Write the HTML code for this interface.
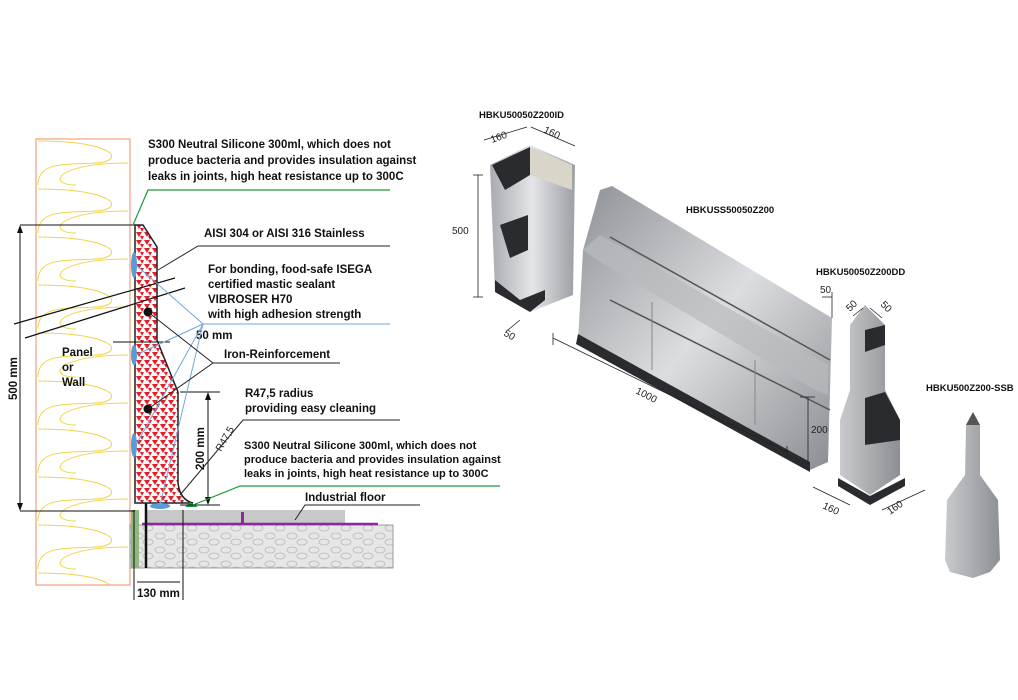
<!DOCTYPE html>
<html><head><meta charset="utf-8"><style>
html,body{margin:0;padding:0;background:#fff;}
svg{display:block;font-family:"Liberation Sans",sans-serif;}
.b{font-weight:bold;font-size:11.5px;fill:#111;}
.s{font-weight:bold;font-size:9.5px;fill:#111;}
.m{font-weight:bold;font-size:11px;fill:#111;}
.d{font-size:10px;fill:#222;}
</style></head><body>
<svg width="1018" height="700" viewBox="0 0 1018 700" xmlns="http://www.w3.org/2000/svg">
<defs>
<pattern id="tri" width="8" height="8" patternUnits="userSpaceOnUse">
<rect width="8" height="8" fill="#fff"/>
<polygon points="0,0 6,0 3,5" fill="#e0202a"/><polygon points="4,4 8,4 6,8" fill="#e0202a"/><polygon points="-4,4 0,4 -2,8" fill="#e0202a"/>
</pattern>
<pattern id="stone" width="22" height="14" patternUnits="userSpaceOnUse">
<rect width="22" height="14" fill="#e6e6e6"/>
<ellipse cx="6" cy="4" rx="5" ry="3" fill="none" stroke="#bbb" stroke-width="0.8"/>
<ellipse cx="16" cy="10" rx="5" ry="3" fill="none" stroke="#bbb" stroke-width="0.8"/>
</pattern>
<pattern id="loops" x="36" y="139" width="94" height="48" patternUnits="userSpaceOnUse">
<path d="M2,2 C80,2 90,22 60,24 C30,26 2,22 2,46 M92,24 C20,24 10,46 40,46" fill="none" stroke="#f2d34a" stroke-width="1"/>
</pattern>
<linearGradient id="m1" x1="0" y1="0" x2="1" y2="1"><stop offset="0" stop-color="#8d9096"/><stop offset="0.5" stop-color="#dcdde0"/><stop offset="1" stop-color="#8a8d92"/></linearGradient>
<linearGradient id="m2" x1="0" y1="0" x2="1" y2="0"><stop offset="0" stop-color="#a9abb0"/><stop offset="0.5" stop-color="#e4e5e8"/><stop offset="1" stop-color="#9c9fa4"/></linearGradient>
<linearGradient id="m3" x1="0" y1="0" x2="1" y2="0"><stop offset="0" stop-color="#c8cacd"/><stop offset="1" stop-color="#8c8f94"/></linearGradient>
</defs>

<rect x="36" y="139" width="94" height="446" fill="url(#loops)" stroke="#f0a080" stroke-width="1.2"/>
<text class="b" x="62" y="356">Panel</text><text class="b" x="62" y="371">or</text><text class="b" x="62" y="386">Wall</text>

<rect x="145" y="510" width="200" height="15" fill="#c8c8c8"/>
<rect x="130" y="525" width="263" height="43" fill="url(#stone)" stroke="#888" stroke-width="0.8"/>
<line x1="142" y1="524" x2="378" y2="524" stroke="#8a2a9a" stroke-width="2.5"/>
<rect x="241" y="512" width="3" height="12" fill="#8a2a9a"/>
<rect x="131" y="510" width="8" height="58" fill="#8fb880"/>
<line x1="146" y1="480" x2="146" y2="568" stroke="#111" stroke-width="2.5"/>

<path d="M135,225 L143,225 L157,247 L157,340 L165,360 L178,392 L178,483 Q180,500 193,503 L135,503 Z" fill="url(#tri)" stroke="#222" stroke-width="1.5"/>
<g fill="#5b9bd5"><ellipse cx="134" cy="265" rx="3" ry="13"/><ellipse cx="134" cy="355" rx="3" ry="10"/><ellipse cx="134" cy="445" rx="3" ry="12"/><ellipse cx="160" cy="506" rx="10" ry="3"/></g>
<polygon points="185,507 198,507 190,502" fill="#1a9a3a"/>
<circle cx="148" cy="312" r="4.5" fill="#111"/><circle cx="148" cy="409" r="4.5" fill="#111"/>
<line x1="14" y1="324" x2="175" y2="278" stroke="#111" stroke-width="1.2"/>
<line x1="25" y1="338" x2="185" y2="288" stroke="#111" stroke-width="1.2"/>

<g stroke="#111" stroke-width="1" fill="none">
<line x1="20" y1="225" x2="135" y2="225"/><line x1="20" y1="511" x2="135" y2="511"/>
<line x1="20" y1="228" x2="20" y2="508"/>
<line x1="180" y1="392" x2="220" y2="392"/><line x1="180" y1="505" x2="220" y2="505"/>
<line x1="208" y1="395" x2="208" y2="502"/>
<line x1="113" y1="342" x2="170" y2="342"/>
<line x1="134" y1="510" x2="134" y2="600"/><line x1="183" y1="510" x2="183" y2="600"/>
<line x1="137" y1="582" x2="180" y2="582"/>
</g>
<g fill="#111"><polygon points="20,225 17,233 23,233"/><polygon points="20,511 17,503 23,503"/>
<polygon points="208,392 205,400 211,400"/><polygon points="208,505 205,497 211,497"/></g>
<text class="b" transform="translate(17,400) rotate(-90)">500 mm</text>
<text class="b" transform="translate(204,470) rotate(-90)">200 mm</text>
<text class="d" font-size="12" transform="translate(221,452) rotate(-60)">R47,5</text>
<text class="b" x="137" y="597">130 mm</text>
<text class="b" x="196" y="339">50 mm</text>

<polyline points="390,190 148,190 133,225" fill="none" stroke="#1a9a3a" stroke-width="1.2"/>
<polyline points="500,486 240,486 193,505" fill="none" stroke="#1a9a3a" stroke-width="1.2"/>
<polyline points="390,246 198,246 158,270" fill="none" stroke="#222" stroke-width="1"/>
<g stroke="#6fa8dc" stroke-width="1" fill="none">
<line x1="390" y1="324" x2="203" y2="324"/>
<line x1="203" y1="324" x2="136" y2="265"/><line x1="203" y1="324" x2="136" y2="355"/>
<line x1="203" y1="324" x2="136" y2="445"/><line x1="203" y1="324" x2="160" y2="505"/>
</g>
<polyline points="340,363 213,363 148,312" fill="none" stroke="#222"/>
<line x1="213" y1="363" x2="148" y2="409" stroke="#222"/>
<polyline points="400,420 243,420 180,495" fill="none" stroke="#222"/>
<polyline points="420,505 305,505 295,520" fill="none" stroke="#222"/>

<text class="b" x="148" y="148">S300 Neutral Silicone 300ml, which does not</text>
<text class="b" x="148" y="164">produce bacteria and provides insulation against</text>
<text class="b" x="148" y="180">leaks in joints, high heat resistance up to 300C</text>
<text class="b" x="204" y="237">AISI 304 or AISI 316 Stainless</text>
<text class="b" x="208" y="273">For bonding, food-safe ISEGA</text>
<text class="b" x="208" y="288">certified mastic sealant</text>
<text class="b" x="208" y="303">VIBROSER H70</text>
<text class="b" x="208" y="318">with high adhesion strength</text>
<text class="b" x="224" y="358">Iron-Reinforcement</text>
<text class="b" x="245" y="397">R47,5 radius</text>
<text class="b" x="245" y="412">providing easy cleaning</text>
<text class="m" x="244" y="449">S300 Neutral Silicone 300ml, which does not</text>
<text class="m" x="244" y="463">produce bacteria and provides insulation against</text>
<text class="m" x="244" y="477">leaks in joints, high heat resistance up to 300C</text>
<text class="b" x="305" y="501">Industrial floor</text>

<text class="s" x="479" y="118">HBKU50050Z200ID</text>
<polygon points="490,165 530,145 575,165 573,295 530,312 495,292" fill="url(#m2)"/>
<polygon points="492,165 530,147 530,175 505,190" fill="#2a2b2e"/>
<polygon points="530,147 572,165 572,190 530,175" fill="#d9d5c8"/>
<polygon points="500,225 528,215 528,250 510,258" fill="#2a2b2e"/>
<polygon points="495,280 520,300 545,290 545,300 530,312 495,292" fill="#2a2b2e"/>
<g stroke="#222" fill="none" stroke-width="0.8">
<line x1="478" y1="175" x2="478" y2="297"/><line x1="473" y1="175" x2="483" y2="175"/><line x1="473" y1="297" x2="483" y2="297"/>
<line x1="484" y1="140" x2="527" y2="127"/><line x1="531" y1="127" x2="575" y2="146"/>
<line x1="508" y1="330" x2="520" y2="320"/>
</g>
<text class="d" x="452" y="234" font-size="11">500</text>
<text class="d" font-size="10" transform="translate(492,143) rotate(-20)">160</text>
<text class="d" font-size="10" transform="translate(543,132) rotate(25)">160</text>
<text class="d" font-size="9" transform="translate(503,335) rotate(30)">50</text>

<text class="s" x="686" y="213">HBKUSS50050Z200</text>
<polygon points="600,190 612,186 832,318 828,462 810,470 578,342 583,250" fill="url(#m1)"/>
<polygon points="583,250 600,235 828,365 828,395 815,390 600,262" fill="#b8babe" opacity="0.7"/>
<polygon points="578,334 810,462 810,472 576,344" fill="#2a2b2e"/>
<line x1="610" y1="237" x2="830" y2="360" stroke="#555" stroke-width="1.5"/>
<line x1="610" y1="300" x2="830" y2="410" stroke="#555" stroke-width="1.5"/>
<line x1="652" y1="302" x2="652" y2="370" stroke="#888"/><line x1="755" y1="360" x2="755" y2="425" stroke="#888"/>
<g stroke="#222" fill="none" stroke-width="0.8">
<line x1="553" y1="338" x2="787" y2="452"/><line x1="553" y1="333" x2="553" y2="345"/><line x1="787" y1="446" x2="787" y2="458"/>
<line x1="808" y1="397" x2="808" y2="465"/><line x1="800" y1="397" x2="815" y2="397"/>
<line x1="822" y1="297" x2="832" y2="297"/><line x1="832" y1="292" x2="832" y2="318"/>
</g>
<text class="d" font-size="10" transform="translate(635,393) rotate(27)">1000</text>
<text class="d" x="811" y="433" font-size="10">200</text>
<text class="d" x="820" y="293" font-size="10">50</text>

<text class="s" x="816" y="275">HBKU50050Z200DD</text>
<polygon points="865,305 885,325 885,390 900,420 900,475 870,495 840,475 840,420 850,390 850,325" fill="url(#m3)"/>
<polygon points="865,330 885,325 885,345 865,352" fill="#2a2b2e"/>
<polygon points="865,398 885,392 900,420 900,440 865,445" fill="#2a2b2e"/>
<polygon points="838,478 870,496 905,478 905,486 870,505 838,486" fill="#2a2b2e"/>
<g stroke="#222" fill="none" stroke-width="0.8">
<line x1="813" y1="487" x2="850" y2="505"/><line x1="882" y1="510" x2="925" y2="490"/>
<line x1="853" y1="316" x2="863" y2="308"/><line x1="870" y1="308" x2="882" y2="318"/>
</g>
<text class="d" font-size="10" transform="translate(822,508) rotate(25)">160</text>
<text class="d" font-size="10" transform="translate(890,515) rotate(-35)">160</text>
<text class="d" font-size="9" transform="translate(850,312) rotate(-45)">50</text>
<text class="d" font-size="9" transform="translate(880,305) rotate(45)">50</text>

<text class="s" x="926" y="391">HBKU500Z200-SSB</text>
<polygon points="973,412 980,425 980,475 998,500 1000,560 990,572 973,578 950,572 945,560 947,500 965,475 966,425" fill="url(#m3)"/>
<polygon points="973,412 980,425 966,425" fill="#555"/>
</svg>
</body></html>
